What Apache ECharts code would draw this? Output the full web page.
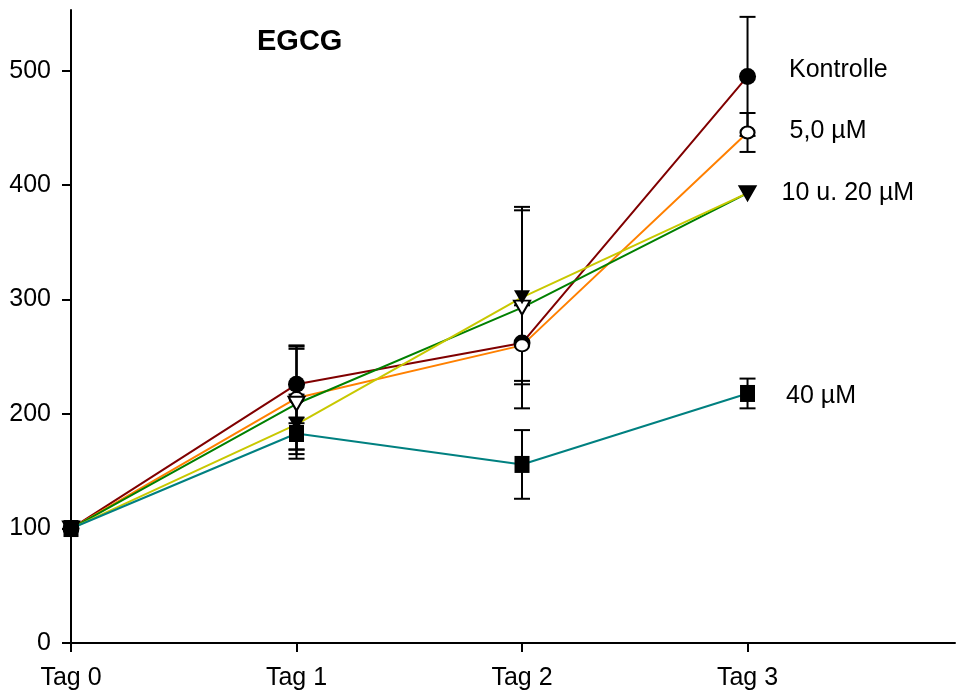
<!DOCTYPE html>
<html>
<head>
<meta charset="utf-8">
<script src="https://cdn.jsdelivr.net/npm/echarts@6/dist/echarts.min.js"></script>
<style>
  html, body { margin: 0; padding: 0; background: #fff; }
  #chart { width: 965px; height: 692px; }
</style>
</head>
<body>
<div id="chart"></div>
<script>
// data
const days = ['Tag 0', 'Tag 1', 'Tag 2', 'Tag 3'];
const yTicks = [0, 100, 200, 300, 400, 500];

const kontrolle = [100, 226, 262, 495];
const kontrolleErr = [0, 34, 33, 52];
const c5 = [100, 214, 260, 446];
const c5Err = [0, 45, 0, 17];
const c10 = [100, 209, 293, 393];
const c10Err = [0, 48, 88, 0];
const c20 = [100, 191, 302, 393];
const c20Err = [0, 26, 76, 0];
const c40 = [100, 183, 156, 218];
const c40Err = [0, 14, 30, 13];

const font = 'Liberation Sans, Arial, sans-serif';

const groups = [
  { name: 'Kontrolle', vals: kontrolle, err: kontrolleErr, color: '#800000', symbol: 'circle', size: 17, rotate: 0, label: 'Kontrolle', dist: 33, off: [0, -6] },
  { name: '5,0 µM', vals: c5, err: c5Err, color: '#ff8000', symbol: 'emptyCircle', size: [14, 12], rotate: 0, label: '5,0 µM', dist: 34, off: [0, -1] },
  { name: '10 µM', vals: c10, err: c10Err, color: '#008000', symbol: 'emptyTriangle', size: [16, 14], rotate: 180, label: '10 u. 20 µM', dist: 25, off: [0, 0] },
  { name: '20 µM', vals: c20, err: c20Err, color: '#c8c800', symbol: 'triangle', size: [16, 14], rotate: 180, label: null },
  { name: '40 µM', vals: c40, err: c40Err, color: '#008080', symbol: 'rect', size: [15, 17], rotate: 0, label: '40 µM', dist: 31, off: [0, 3] }
];

const series = [];

// lines first
groups.forEach(g => {
  series.push({
    name: g.name,
    type: 'line',
    data: g.vals.map((v, i) => [i, v]),
    showSymbol: false,
    symbol: 'none',
    lineStyle: { color: g.color, width: 2 },
    z: 2,
    silent: true
  });
});

// error bars
groups.forEach(g => {
  series.push({
    type: 'custom',
    z: 3,
    silent: true,
    data: g.vals.map((v, i) => [i, v, g.err[i]]),
    renderItem: function (params, api) {
      const x = api.value(0), y = api.value(1), e = api.value(2);
      if (!e) return null;
      const top = api.coord([x, y + e]);
      const bot = api.coord([x, y - e]);
      const w = 8;
      const st = { stroke: '#000', lineWidth: 2 };
      return {
        type: 'group',
        children: [
          { type: 'line', shape: { x1: top[0], y1: top[1], x2: bot[0], y2: bot[1] }, style: st },
          { type: 'line', shape: { x1: top[0] - w, y1: top[1], x2: top[0] + w, y2: top[1] }, style: st },
          { type: 'line', shape: { x1: bot[0] - w, y1: bot[1], x2: bot[0] + w, y2: bot[1] }, style: st }
        ]
      };
    }
  });
});

// markers and right-hand labels
groups.forEach(g => {
  const empty = g.symbol.indexOf('empty') === 0;
  series.push({
    type: 'scatter',
    z: 4,
    symbol: g.symbol,
    symbolSize: g.size,
    symbolRotate: g.rotate,
    itemStyle: { color: '#000', borderColor: '#000', borderWidth: empty ? 2 : 0, opacity: 1 },
    data: g.vals.map((v, i) => {
      if (i === 3 && g.label) {
        return {
          value: [i, v],
          label: {
            show: true, position: 'right', distance: g.dist, offset: g.off,
            formatter: g.label, color: '#000', opacity: 1, fontSize: 25, fontFamily: font
          }
        };
      }
      return [i, v];
    })
  });
});

const chart = echarts.init(document.getElementById('chart'), null, { renderer: 'canvas' });

chart.setOption({
  animation: false,
  backgroundColor: '#fff',
  title: {
    text: 'EGCG',
    left: 257,
    top: 27,
    padding: 0,
    textStyle: { fontSize: 29, fontWeight: 'bold', color: '#000', fontFamily: font }
  },
  grid: { left: 71, right: 10, top: 10, bottom: 49, containLabel: false },
  xAxis: {
    type: 'value',
    min: 0,
    max: 3.92,
    interval: 1,
    axisLine: { show: true, onZero: false, lineStyle: { color: '#000', width: 2 } },
    axisTick: { show: true, length: 9, customValues: [0, 1, 2, 3], lineStyle: { color: '#000', width: 2 } },
    axisLabel: {
      customValues: [0, 1, 2, 3],
      formatter: v => days[Math.round(v)],
      fontSize: 25, color: '#000', fontFamily: font, margin: 23
    },
    splitLine: { show: false }
  },
  yAxis: {
    type: 'value',
    min: 0,
    max: 553,
    interval: 100,
    axisLine: { show: true, onZero: false, lineStyle: { color: '#000', width: 2 } },
    axisTick: { show: true, length: 9, customValues: yTicks, lineStyle: { color: '#000', width: 2 } },
    axisLabel: {
      customValues: yTicks,
      fontSize: 25, color: '#000', fontFamily: font, margin: 20
    },
    splitLine: { show: false }
  },
  series: series
});

window.addEventListener('resize', chart.resize);
</script>
</body>
</html>
